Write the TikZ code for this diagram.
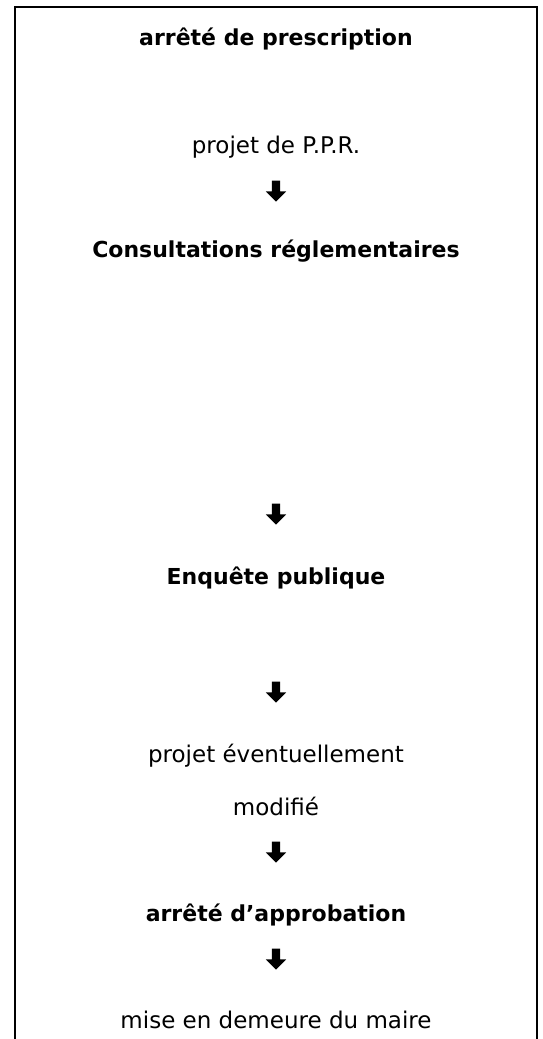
\documentclass[tikz,border=0pt]{standalone}
\usepackage{fontspec}
\setmainfont{DejaVu Sans}
\usetikzlibrary{shapes.arrows, positioning}

\begin{document}
\begin{tikzpicture}[
    x=1pt, y=-1pt,
    cadre/.style={line width=2pt},
    etape/.style={anchor=base, inner sep=0pt, font=\fontsize{22}{26}\selectfont\bfseries},
    texte/.style={anchor=base, inner sep=0pt, font=\fontsize{23}{27}\selectfont},
    fleche/.style={single arrow, shape border rotate=270, fill=black, inner sep=4pt,
        minimum height=21pt, single arrow head extend=6pt}
]
\useasboundingbox (0,0) rectangle (543,1039);

% Cadre, ouvert en bas
\draw[cadre] (15,1039) -- (15,7) -- (537,7) -- (537,1039);

% Etapes
\node[etape] (presc) at (276,45) {arrêté de prescription};
\node[texte] (projet) at (276,153) {projet de P.P.R.};
\node[fleche] (f1) at (276,189) {};
\node[etape] (consult) at (276,257) {Consultations réglementaires};
\node[fleche] (f2) at (276,512) {};
\node[etape] (enquete) at (276,584) {Enquête publique};
\node[fleche] (f3) at (276,690) {};
\node[texte] (modif1) at (276,762) {projet éventuellement};
\node[texte] (modif2) at (276,815) {modifié};
\node[fleche] (f4) at (276,850) {};
\node[etape] (approb) at (276,921) {arrêté d’approbation};
\node[fleche] (f5) at (276,957) {};
\node[texte] (demeure) at (276,1028) {mise en demeure du maire};

\end{tikzpicture}
\end{document}
